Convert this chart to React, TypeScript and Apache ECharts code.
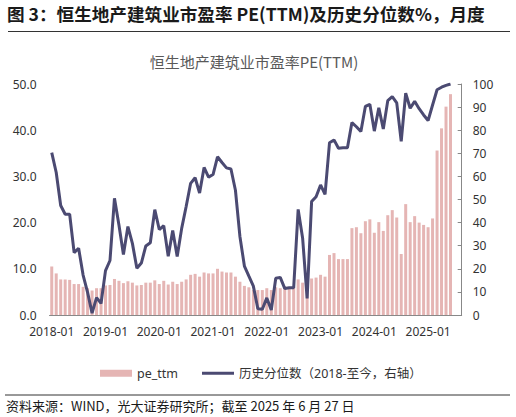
import React, { useEffect, useRef } from "react";
import * as echarts from "echarts";

const peTtm: number[] = [
  10.5, 9.0, 7.7, 7.7, 7.6, 6.7, 6.7, 6.1, 5.8, 5.3, 5.8, 5.8,
  6.4, 6.5, 7.8, 7.4, 6.9, 7.3, 7.0, 6.4, 6.5, 7.0, 7.0, 7.5,
  6.7, 7.4, 6.6, 7.2, 6.7, 7.2, 7.7, 8.7, 8.9, 8.3, 9.2, 9.0,
  9.0, 10.0, 9.4, 9.2, 9.2, 8.3, 7.2, 6.3, 6.0, 5.4, 5.4, 5.4,
  5.8, 5.4, 6.0, 5.8, 6.1, 6.0, 6.0, 7.7, 7.0, 7.6, 7.9, 8.1,
  8.7, 8.3, 13.0, 13.4, 12.1, 12.1, 12.1, 18.8, 19.0, 17.7, 20.3, 20.7,
  17.8, 20.1, 18.2, 21.6, 22.7, 21.1, 13.2, 24.0, 20.1, 21.4, 20.0, 19.5,
  19.0, 20.9, 35.6, 40.4, 45.1, 47.8,
];

const percentile: number[] = [
  70.3, 61.7, 47.4, 43.6, 43.6, 27.0, 28.9, 17.3, 9.8, 0.8, 7.5, 5.0,
  19.2, 23.6, 50.5, 39.0, 26.2, 38.3, 31.0, 20.2, 22.5, 29.9, 31.3, 45.6,
  37.0, 38.7, 25.4, 36.6, 25.3, 37.5, 47.0, 57.0, 59.4, 52.8, 63.9, 59.7,
  60.8, 68.5, 66.0, 63.7, 63.2, 54.0, 34.0, 21.2, 16.8, 12.5, 2.7, 2.5,
  7.4, 2.2, 15.9, 16.3, 11.5, 11.8, 11.8, 45.7, 33.2, 7.2, 49.1, 51.2,
  56.3, 52.2, 74.6, 75.8, 72.2, 72.4, 72.4, 83.3, 81.5, 79.4, 90.3, 91.2,
  79.6, 89.7, 80.5, 92.8, 94.5, 91.8, 75.2, 96.0, 89.5, 92.5, 89.3, 86.6,
  84.2, 90.9, 97.5, 98.6, 99.4, 100,
];

// Month categories 2018-01 .. 2025-08 (axis extends two months past data)
const startYear = 2018;
const monthCount = 92;
const categories: string[] = [];
for (let i = 0; i < monthCount; i++) {
  const y = startYear + Math.floor(i / 12);
  const m = (i % 12) + 1;
  categories.push(`${y}-${m < 10 ? "0" + m : m}`);
}

const seriesNames = ["pe_ttm", "历史分位数（2018-至今，右轴）"];
const titleText = "图 3：恒生地产建筑业市盈率 PE(TTM)及历史分位数%，月度";
const chartTitle = "恒生地产建筑业市盈率PE(TTM)";
const sourceText = "资料来源：WIND，光大证券研究所；截至 2025 年 6 月 27 日";

const FONT = '"Noto Sans", "Noto Sans CJK SC", sans-serif';
const CJK = '"Noto Sans CJK SC", "Noto Sans", sans-serif';

const BAR_COLOR = "#e5b5b4";
const LINE_COLOR = "#4b4a72";

export default function App() {
  const ref = useRef<HTMLDivElement>(null);
  useEffect(() => {
    if (!ref.current) return;
    const chart = echarts.init(ref.current, undefined, { renderer: "svg" });
    chart.setOption({
      animation: false,
      backgroundColor: "#ffffff",
      textStyle: { fontFamily: FONT },
      graphic: [
        {
          type: "text",
          left: 7,
          top: 5,
          style: {
            text: titleText,
            fontSize: 17.6,
            fontWeight: "bold",
            fontFamily: CJK,
            fill: "#1a1a1a",
          },
        },
        {
          type: "line",
          shape: { x1: 8, y1: 31.5, x2: 510, y2: 31.5 },
          style: { stroke: "#333333", lineWidth: 1.2 },
        },
        {
          type: "text",
          x: 254,
          y: 61,
          style: {
            text: chartTitle,
            fontSize: 15,
            fontFamily: CJK,
            fill: "#595959",
            align: "center",
            verticalAlign: "middle",
          },
        },
        {
          type: "line",
          shape: { x1: 5, y1: 395, x2: 510, y2: 395 },
          style: { stroke: "#333333", lineWidth: 1 },
        },
        {
          type: "text",
          x: 6,
          y: 405,
          style: {
            text: sourceText,
            fontSize: 13,
            fontFamily: CJK,
            fill: "#1a1a1a",
            verticalAlign: "middle",
          },
        },
      ],
      legend: {
        top: 362,
        left: 95,
        itemWidth: 32,
        itemHeight: 7,
        itemGap: 24,
        textStyle: { fontSize: 12.5, color: "#333", fontFamily: FONT },
        data: [
          { name: seriesNames[0], icon: "rect" },
          { name: seriesNames[1], icon: "path://M0,0H32V3H0Z" },
        ],
      },
      grid: { left: 49.5, right: 54.3, top: 84, bottom: 102 },
      xAxis: {
        type: "category",
        data: categories,
        boundaryGap: true,
        axisLine: { show: true, lineStyle: { color: "#888888", width: 1 } },
        axisTick: { show: false },
        axisLabel: {
          interval: 11,
          fontSize: 12,
          color: "#333",
          margin: 10,
          fontFamily: FONT,
        },
        splitLine: { show: false },
      },
      yAxis: [
        {
          type: "value",
          min: 0,
          max: 50,
          interval: 10,
          axisLine: { show: false },
          axisTick: { show: false },
          splitLine: { show: false },
          axisLabel: {
            fontSize: 12,
            color: "#333",
            margin: 13,
            formatter: (v: number) => v.toFixed(1),
          },
        },
        {
          type: "value",
          min: 0,
          max: 100,
          interval: 10,
          position: "right",
          axisLine: { show: true, lineStyle: { color: "#888888", width: 1 } },
          axisTick: { show: true, inside: true, length: 4, lineStyle: { color: "#888888" } },
          splitLine: { show: false },
          axisLabel: { fontSize: 12, color: "#333", margin: 11 },
        },
      ],
      series: [
        {
          name: seriesNames[0],
          type: "bar",
          yAxisIndex: 0,
          data: peTtm,
          barWidth: 3,
          itemStyle: { color: BAR_COLOR },
        },
        {
          name: seriesNames[1],
          type: "line",
          yAxisIndex: 1,
          data: percentile,
          symbol: "none",
          lineStyle: { color: LINE_COLOR, width: 3 },
          itemStyle: { color: LINE_COLOR },
        },
      ],
    });
    return () => chart.dispose();
  }, []);
  return (
    <div
      ref={ref}
      style={{ position: "fixed", left: 0, top: 0, width: 516, height: 417 }}
    />
  );
}
